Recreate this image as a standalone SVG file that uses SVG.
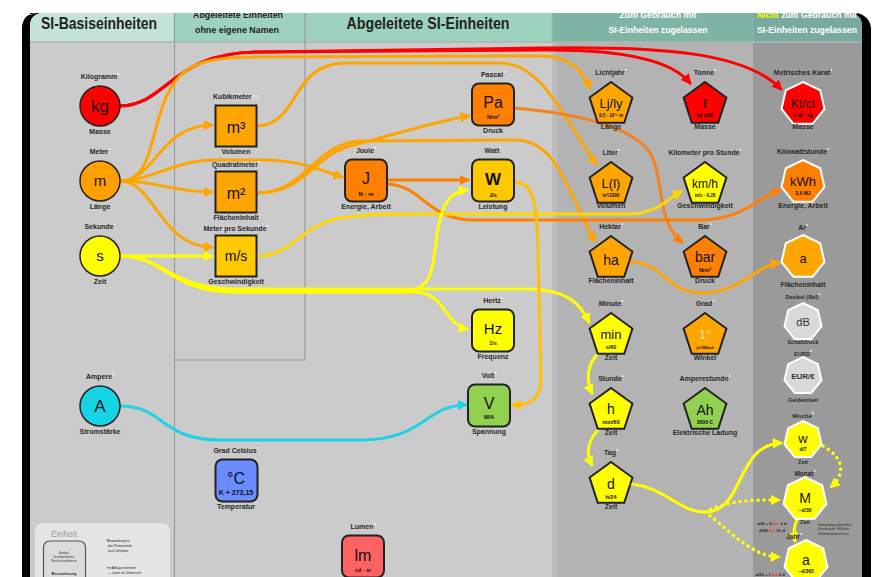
<svg xmlns="http://www.w3.org/2000/svg" xmlns:xlink="http://www.w3.org/1999/xlink" width="872" height="577" viewBox="0 0 872 577">
<style>
text{font-family:"Liberation Sans",Arial,sans-serif}
.l{font-size:7px;font-weight:bold;fill:#2a2a2a;text-anchor:middle}
.ls{font-size:5.5px;font-weight:bold;fill:#2a2a2a;text-anchor:middle}
.y{font-size:15px;fill:#111;text-anchor:middle}
.u{font-size:5.5px;font-weight:bold;fill:#111;text-anchor:middle}
.st{fill:#fff;font-size:5px}
.c{fill:none;stroke-width:3;stroke-linecap:round}
.dt{fill:none;stroke-width:3.5;stroke-linecap:round;stroke-dasharray:0.1 6}
.bk{stroke:#222;stroke-width:2}
.wh{stroke:#fff;stroke-width:2}
.hd{font-weight:bold;text-anchor:middle}
</style>
<defs>
<path id="pen" d="M0,-22.5 L21.4,-6.95 L13.23,18.2 L-13.23,18.2 L-21.4,-6.95 Z"/>
<path id="hep" d="M0,-22 L17.2,-13.72 L21.45,4.9 L9.55,19.82 L-9.55,19.82 L-21.45,4.9 L-17.2,-13.72 Z"/>
<path id="heps" d="M0,-19 L14.85,-11.85 L18.52,4.23 L8.25,17.12 L-8.25,17.12 L-18.52,4.23 L-14.85,-11.85 Z"/>
<marker id="aR" viewBox="0 0 10 10" refX="8" refY="5" markerWidth="3.5" markerHeight="3.5" orient="auto"><path d="M0,0 L10,5 L0,10 Z" fill="#ff0000"/></marker>
<marker id="aO" viewBox="0 0 10 10" refX="8" refY="5" markerWidth="3.5" markerHeight="3.5" orient="auto"><path d="M0,0 L10,5 L0,10 Z" fill="#ffa500"/></marker>
<marker id="aD" viewBox="0 0 10 10" refX="8" refY="5" markerWidth="3.5" markerHeight="3.5" orient="auto"><path d="M0,0 L10,5 L0,10 Z" fill="#ff8000"/></marker>
<marker id="aY" viewBox="0 0 10 10" refX="8" refY="5" markerWidth="3.5" markerHeight="3.5" orient="auto"><path d="M0,0 L10,5 L0,10 Z" fill="#ffff00"/></marker>
<marker id="aYd" viewBox="0 0 10 10" refX="8" refY="5" markerWidth="3" markerHeight="3" orient="auto"><path d="M0,0 L10,5 L0,10 Z" fill="#ffff00"/></marker>
<marker id="aG" viewBox="0 0 10 10" refX="8" refY="5" markerWidth="3.5" markerHeight="3.5" orient="auto"><path d="M0,0 L10,5 L0,10 Z" fill="#ffc000"/></marker>
<marker id="aGy" viewBox="0 0 10 10" refX="8" refY="5" markerWidth="3.5" markerHeight="3.5" orient="auto"><path d="M0,0 L10,5 L0,10 Z" fill="#ffd800"/></marker>
<marker id="aC" viewBox="0 0 10 10" refX="8" refY="5" markerWidth="3.5" markerHeight="3.5" orient="auto"><path d="M0,0 L10,5 L0,10 Z" fill="#1ed2e6"/></marker>
<clipPath id="panel"><rect x="30" y="13" width="832" height="580" rx="12"/></clipPath>
</defs>

<rect width="872" height="577" fill="#ffffff"/>
<rect x="22" y="13" width="849" height="580" rx="16" fill="#000"/>
<g id="background" clip-path="url(#panel)">
  <rect x="30" y="13" width="145" height="580" fill="#cbcbcb"/>
  <rect x="175" y="13" width="377" height="580" fill="#cbcbcb"/>
  <rect x="552" y="13" width="201" height="580" fill="#b3b3b3"/>
  <rect x="552" y="42" width="5" height="540" fill="#bcbcbc"/>
  <rect x="753" y="13" width="109" height="580" fill="#9a9a9a"/>
  <rect x="30" y="13" width="145" height="29" fill="#c2e3d5"/>
  <rect x="175" y="13" width="130" height="29" fill="#9dd2bf"/>
  <rect x="305" y="13" width="247" height="29" fill="#9dd2bf"/>
  <rect x="552" y="13" width="201" height="29" fill="#80b4a5"/>
  <rect x="753" y="13" width="109" height="29" fill="#7aaa9d"/>
  <line x1="30" y1="42" x2="862" y2="42" stroke="#a9b8b2" stroke-width="1.5"/>
  <line x1="174.5" y1="13" x2="174.5" y2="590" stroke="#9a9a9a" stroke-width="1.2"/>
  <line x1="305" y1="13" x2="305" y2="360" stroke="#9a9a9a" stroke-width="1.2"/>
  <line x1="174.5" y1="360" x2="305" y2="360" stroke="#9a9a9a" stroke-width="1.2"/>
  <line x1="552" y1="13" x2="552" y2="42" stroke="#8fbcaf" stroke-width="1"/>
  <line x1="753" y1="13" x2="753" y2="42" stroke="#86b3a7" stroke-width="1"/>
</g>

<g id="headers">
  <text class="hd" x="99" y="29" font-size="16" fill="#222" textLength="116" lengthAdjust="spacingAndGlyphs">SI-Basiseinheiten</text>
  <text class="hd" x="238" y="18" font-size="9" fill="#222" textLength="90" lengthAdjust="spacingAndGlyphs">Abgeleitete Einheiten</text>
  <text class="hd" x="237" y="33" font-size="9" fill="#222" textLength="84" lengthAdjust="spacingAndGlyphs">ohne eigene Namen</text>
  <text class="hd" x="428" y="29" font-size="16" fill="#222" textLength="163" lengthAdjust="spacingAndGlyphs">Abgeleitete SI-Einheiten</text>
  <text class="hd" x="658" y="18" font-size="9" fill="#fff" textLength="77" lengthAdjust="spacingAndGlyphs">Zum Gebrauch mit</text>
  <text class="hd" x="658" y="33" font-size="9" fill="#fff" textLength="99" lengthAdjust="spacingAndGlyphs">SI-Einheiten zugelassen</text>
  <text class="hd" x="807" y="18" font-size="9" fill="#fff" textLength="100" lengthAdjust="spacingAndGlyphs"><tspan fill="#f2ff00">Nicht</tspan> zum Gebrauch mit</text>
  <text class="hd" x="807" y="33" font-size="9" fill="#fff" textLength="100" lengthAdjust="spacingAndGlyphs">SI-Einheiten zugelassen</text>
</g>
<rect x="0" y="0" width="872" height="13" fill="#ffffff"/>
<path d="M22,29 Q22,13 38,13 L30,13 L30,29 Z" fill="#000"/>

<g id="connectors">
  <path class="c" stroke="#ff0000" d="M120,106 C170,104 170,52 260,52 L540,50 C615,49 670,58 690,83" marker-end="url(#aR)"/>
  <path class="c" stroke="#ff0000" d="M120,106 C170,104 170,52 260,52 L540,48 C660,46 745,52 781,89" marker-end="url(#aR)"/>
  <path class="c" stroke="#ffa500" d="M120,181 C150,181 150,140 163,105 C178,64 200,57 260,57 L540,56 C570,56 582,70 590,88" marker-end="url(#aO)"/>
  <path class="c" stroke="#ffa500" d="M120,181 C155,181 160,125 212,125" marker-end="url(#aO)"/>
  <path class="c" stroke="#ffa500" d="M120,181 C160,181 170,192 212,192" marker-end="url(#aO)"/>
  <path class="c" stroke="#ffa500" d="M120,181 C155,181 160,247 212,247" marker-end="url(#aO)"/>
  <path class="c" stroke="#ffa500" d="M120,181 C150,181 175,160 215,160 L260,160 C300,160 320,170 342,177" marker-end="url(#aO)"/>
  <path class="c" stroke="#ffa500" d="M258,126 C300,124 290,64 345,63 L500,63 C540,63 560,110 596,164" marker-end="url(#aO)"/>
  <path class="c" stroke="#ffa500" d="M258,193 C305,193 315,155 350,146 C390,136 440,120 469,116" marker-end="url(#aO)"/>
  <path class="c" stroke="#ffa500" d="M258,193 C305,193 315,143 360,141 L515,140 C560,140 570,200 595,241" marker-end="url(#aO)"/>
  <path class="c" stroke="#f58220" d="M514,108 C560,112 625,122 648,150 C665,172 655,222 682,242" marker-end="url(#aD)"/>
  <path class="c" stroke="#ff8000" d="M387,180 L468,180" marker-end="url(#aD)"/>
  <path class="c" stroke="#ff8000" d="M387,184 C425,186 425,220 475,220 L700,220 C740,220 755,200 780,190" marker-end="url(#aD)"/>
  <path class="c" stroke="#ffa500" d="M630,262 C665,262 665,293 702,293 C740,293 755,266 779,263" marker-end="url(#aO)"/>
  <path class="c" stroke="#ffd800" d="M258,256 C290,256 300,228 335,219 C365,213 400,214 440,214 L630,214 C655,214 668,200 681,191" marker-end="url(#aGy)"/>
  <path class="c" stroke="#ffff00" d="M120,256 L212,256" marker-end="url(#aY)"/>
  <path class="c" stroke="#ffff00" d="M120,256 C165,256 170,292 235,292 L400,292 C425,292 432,280 435,250 C440,205 448,192 467,190" marker-end="url(#aY)"/>
  <path class="c" stroke="#ffff00" d="M120,256 C165,256 170,292 235,292 L415,292 C445,292 445,325 467,329" marker-end="url(#aY)"/>
  <path class="c" stroke="#ffff00" d="M120,256 C165,256 170,289 235,289 L530,289 C565,290 580,302 589,322" marker-end="url(#aY)"/>
  <path class="c" stroke="#ffc000" d="M514,182 C533,182 537,200 538,250 L541,375 C542,400 530,405 513,405" marker-end="url(#aG)"/>
  <path class="c" stroke="#1ed2e6" d="M120,406 C165,406 160,440 220,440 L360,440 C425,440 425,405 466,405" marker-end="url(#aC)"/>
  <path class="c" stroke="#ffff00" d="M600,352 C588,362 585,378 592,393" marker-end="url(#aY)"/>
  <path class="c" stroke="#ffff00" d="M600,428 C588,440 585,452 592,465" marker-end="url(#aY)"/>
  <path class="c" stroke="#ffff00" d="M632,484 C665,488 680,512 705,512 C745,512 735,445 781,443" marker-end="url(#aY)"/>
  <path class="dt" stroke="#ffff00" d="M705,512 C730,500 750,500 779,500" marker-end="url(#aYd)"/>
  <path class="dt" stroke="#ffff00" d="M705,512 C730,530 750,556 779,557" marker-end="url(#aYd)"/>
  <path class="dt" stroke="#ffff00" d="M823,446 C845,458 845,475 831,487" marker-end="url(#aYd)"/>
  <path class="c" stroke="#ffff00" d="M798,518 C794,525 793,533 795,541" marker-end="url(#aY)"/>
</g>

<g id="n-kg"><circle cx="100" cy="106" r="20" fill="#ff0000" stroke="#222" stroke-width="1.5"/><text class="y" x="100" y="112" style="font-size:17px">kg</text><text class="l" x="100" y="79">Kilogramm<tspan class="st" dy="-2">*</tspan></text><text class="l" x="100" y="134">Masse</text></g>
<g id="n-m"><circle cx="100" cy="181" r="20" fill="#ffa000" stroke="#222" stroke-width="1.5"/><text class="y" x="100" y="186">m</text><text class="l" x="100" y="154">Meter<tspan class="st" dy="-2">*</tspan></text><text class="l" x="100" y="209">Länge</text></g>
<g id="n-s"><circle cx="100" cy="256" r="20" fill="#ffff00" stroke="#222" stroke-width="1.5"/><text class="y" x="100" y="261">s</text><text class="l" x="100" y="229">Sekunde<tspan class="st" dy="-2">*</tspan></text><text class="l" x="100" y="284">Zeit</text></g>
<g id="n-A"><circle cx="100" cy="406" r="20" fill="#17d3e6" stroke="#222" stroke-width="1.5"/><text class="y" x="100" y="412" style="font-size:17px">A</text><text class="l" x="100" y="379">Ampere<tspan class="st" dy="-2">*</tspan></text><text class="l" x="100" y="434">Stromstärke</text></g>

<g id="n-m3"><rect x="215.5" y="105.5" width="41" height="41" fill="#ffa500" class="bk"/><text class="y" x="236" y="133" style="font-size:16px">m³</text><text class="l" x="236" y="99">Kubikmeter<tspan style="fill:#eee;font-size:5.5px"> [*]</tspan></text><text class="l" x="236" y="154">Volumen</text></g>
<g id="n-m2"><rect x="215.5" y="171.5" width="41" height="41" fill="#ffa500" class="bk"/><text class="y" x="236" y="199" style="font-size:16px">m²</text><text class="l" x="236" y="167">Quadratmeter<tspan class="st" dy="-2">*</tspan></text><text class="l" x="236" y="220">Flächeninhalt</text></g>
<g id="n-ms"><rect x="215.5" y="235.5" width="41" height="41" fill="#ffc800" class="bk"/><text class="y" x="236" y="261" style="font-size:14px">m/s</text><text class="l" x="236" y="231">Meter pro Sekunde<tspan class="st" dy="-2">*</tspan></text><text class="l" x="236" y="284">Geschwindigkeit</text></g>

<g id="n-Pa"><rect x="472" y="83.5" width="42" height="42" rx="7" fill="#ff8000" class="bk"/><text class="y" x="493" y="108" style="font-size:16px">Pa</text><text class="u" x="493" y="119">N/m²</text><text class="l" x="493" y="77">Pascal<tspan class="st" dy="-2">*</tspan></text><text class="l" x="493" y="133">Druck</text></g>
<g id="n-J"><rect x="345" y="159.5" width="42" height="42" rx="7" fill="#ff8000" class="bk"/><text class="y" x="366" y="184" style="font-size:16px">J</text><text class="u" x="366" y="196" style="font-size:6px">N · m</text><text class="l" x="366" y="153">Joule<tspan class="st" dy="-2">*</tspan></text><text class="l" x="366" y="209">Energie, Arbeit</text></g>
<g id="n-W"><rect x="472" y="159.5" width="42" height="42" rx="7" fill="#ffc800" class="bk"/><text class="y" x="493" y="185" style="font-size:17px;font-weight:bold">W</text><text class="u" x="493" y="197">J/s</text><text class="l" x="493" y="153">Watt<tspan class="st" dy="-2">*</tspan></text><text class="l" x="493" y="209">Leistung</text></g>
<g id="n-Hz"><rect x="472" y="309.5" width="42" height="42" rx="7" fill="#ffff00" class="bk"/><text class="y" x="493" y="334">Hz</text><text class="u" x="493" y="345">1/s</text><text class="l" x="493" y="303">Hertz<tspan class="st" dy="-2">*</tspan></text><text class="l" x="493" y="359">Frequenz</text></g>
<g id="n-V"><rect x="468" y="384.5" width="42" height="42" rx="7" fill="#92d050" class="bk"/><text class="y" x="489" y="409" style="font-size:16px">V</text><text class="u" x="489" y="419">W/A</text><text class="l" x="489" y="378">Volt<tspan class="st" dy="-2">*</tspan></text><text class="l" x="489" y="434">Spannung</text></g>
<g id="n-C"><rect x="215.5" y="459.5" width="42" height="42" rx="7" fill="#6b8cff" class="bk"/><text class="y" x="236" y="484" style="font-size:16px">°C</text><text class="u" x="236" y="495" style="font-size:7px">K + 273,15</text><text class="l" x="236" y="453">Grad Celsius<tspan class="st" dy="-2">*</tspan></text><text class="l" x="236" y="509">Temperatur</text></g>
<g id="n-lm"><rect x="342" y="535.5" width="42" height="42" rx="7" fill="#ff6262" class="bk"/><text class="y" x="363" y="561" style="font-size:16px">lm</text><text class="u" x="363" y="572">cd · sr</text><text class="l" x="363" y="529">Lumen<tspan class="st" dy="-2">*</tspan></text></g>

<g id="n-Lj"><use xlink:href="#pen" transform="translate(611,104.5)" fill="#ffa500" class="bk"/><text class="y" x="611" y="108" style="font-size:13px">Lj/ly</text><text class="u" x="611" y="117" style="font-size:4.5px">9,5 · 10¹⁵ m</text><text class="l" x="611" y="75">Lichtjahr<tspan class="st" dy="-2">*</tspan></text><text class="l" x="611" y="129">Länge</text></g>
<g id="n-t"><use xlink:href="#pen" transform="translate(705,104.5)" fill="#ff0000" class="bk"/><text class="y" x="705" y="108">t</text><text class="u" x="705" y="117" style="font-size:4.5px">kg·1000</text><text class="l" x="705" y="75">Tonne<tspan class="st" dy="-2">*</tspan></text><text class="l" x="705" y="129">Masse</text></g>
<g id="n-L"><use xlink:href="#pen" transform="translate(611,184.5)" fill="#ffa500" class="bk"/><text class="y" x="611" y="188" style="font-size:13px">L(l)</text><text class="u" x="611" y="197" style="font-size:4.5px">m³/1000</text><text class="l" x="611" y="155">Liter<tspan class="st" dy="-2">*</tspan></text><text class="l" x="611" y="208">Volumen</text></g>
<g id="n-kmh"><use xlink:href="#pen" transform="translate(705,184.5)" fill="#ffff00" class="bk"/><text class="y" x="705" y="188" style="font-size:12px">km/h</text><text class="u" x="705" y="197" style="font-size:4.5px">m/s · 0,28</text><text class="l" x="705" y="155">Kilometer pro Stunde<tspan class="st" dy="-2">*</tspan></text><text class="l" x="705" y="208">Geschwindigkeit</text></g>
<g id="n-ha"><use xlink:href="#pen" transform="translate(611,258.5)" fill="#ffa500" class="bk"/><text class="y" x="611" y="265" style="font-size:14px">ha</text><text class="l" x="611" y="229">Hektar<tspan class="st" dy="-2">*</tspan></text><text class="l" x="611" y="283">Flächeninhalt</text></g>
<g id="n-bar"><use xlink:href="#pen" transform="translate(705,258.5)" fill="#ff8000" class="bk"/><text class="y" x="705" y="262" style="font-size:14px">bar</text><text class="u" x="705" y="272">N/m²</text><text class="l" x="705" y="229">Bar<tspan class="st" dy="-2">*</tspan></text><text class="l" x="705" y="283">Druck</text></g>
<g id="n-min"><use xlink:href="#pen" transform="translate(611,335.5)" fill="#ffff00" class="bk"/><text class="y" x="611" y="339" style="font-size:13px">min</text><text class="u" x="611" y="349">s/60</text><text class="l" x="611" y="306">Minute<tspan class="st" dy="-2">*</tspan></text><text class="l" x="611" y="360">Zeit</text></g>
<g id="n-deg"><use xlink:href="#pen" transform="translate(705,335.5)" fill="#ffa500" class="bk"/><text class="y" x="705" y="339" style="font-size:13px;fill:#ffe7a8">1°</text><text class="u" x="705" y="349" style="font-size:3.5px">(π/180)rad</text><text class="l" x="705" y="306">Grad<tspan class="st" dy="-2">*</tspan></text><text class="l" x="705" y="360">Winkel</text></g>
<g id="n-h"><use xlink:href="#pen" transform="translate(611,410.5)" fill="#ffff00" class="bk"/><text class="y" x="611" y="414" style="font-size:14px">h</text><text class="u" x="611" y="424">min/60</text><text class="l" x="611" y="381">Stunde<tspan class="st" dy="-2">*</tspan></text><text class="l" x="611" y="435">Zeit</text></g>
<g id="n-Ah"><use xlink:href="#pen" transform="translate(705,410.5)" fill="#92d050" class="bk"/><text class="y" x="705" y="415" style="font-size:14px">Ah</text><text class="u" x="705" y="424" style="font-size:5px">3600·C</text><text class="l" x="705" y="381">Amperestunde<tspan class="st" dy="-2">*</tspan></text><text class="l" x="705" y="435">Elektrische Ladung</text></g>
<g id="n-d"><use xlink:href="#pen" transform="translate(611,484.5)" fill="#ffff00" class="bk"/><text class="y" x="611" y="489" style="font-size:14px">d</text><text class="u" x="611" y="499">h/24</text><text class="l" x="611" y="455">Tag<tspan class="st" dy="-2">*</tspan></text><text class="l" x="611" y="509">Zeit</text></g>

<g id="n-ct"><use xlink:href="#hep" transform="translate(803,104)" fill="#ff0000" class="wh"/><text class="y" x="803" y="108" style="font-size:12px">Kt/ct</text><text class="u" x="803" y="117" style="font-size:4.5px">2·10⁻⁴ kg</text><text class="l" x="803" y="75">Metrisches Karat<tspan class="st" dy="-2">*</tspan></text><text class="l" x="803" y="129">Masse</text></g>
<g id="n-kWh"><use xlink:href="#hep" transform="translate(803,182)" fill="#ff8000" class="wh"/><text class="y" x="803" y="186" style="font-size:13px">kWh</text><text class="u" x="803" y="195" style="font-size:5px">3,6 MJ</text><text class="l" x="803" y="154">Kilowattstunde<tspan class="st" dy="-2">*</tspan></text><text class="l" x="803" y="208">Energie, Arbeit</text></g>
<g id="n-ar"><use xlink:href="#hep" transform="translate(803,257)" fill="#ffa500" class="wh"/><text class="y" x="803" y="263" style="font-size:13px">a</text><text class="l" x="803" y="230">Ar<tspan class="st" dy="-2">*</tspan></text><text class="l" x="803" y="287">Flächeninhalt</text></g>
<g id="n-dB"><use xlink:href="#heps" transform="translate(803,322)" fill="#d9d9d9" class="wh"/><text class="y" x="803" y="326" style="font-size:11px;fill:#333">dB</text><text class="ls" x="803" y="299">Dezibel (Bel)<tspan class="st" dy="-2">*</tspan></text><text class="ls" x="803" y="344">Schalldruck</text></g>
<g id="n-eur"><use xlink:href="#heps" transform="translate(803,376)" fill="#d9d9d9" class="wh"/><text class="y" x="803" y="379" style="font-size:8px;font-weight:bold;fill:#333">EUR/€</text><text class="ls" x="803" y="356">EURO<tspan class="st" dy="-2">*</tspan></text><text class="ls" x="803" y="402">Geldeinheit</text></g>
<g id="n-w"><use xlink:href="#heps" transform="translate(803,440)" fill="#ffff00" class="wh"/><text class="y" x="803" y="443" style="font-size:13px">w</text><text class="u" x="803" y="451" style="font-size:5px">d/7</text><text class="ls" x="803" y="418" style="font-size:6px">Woche<tspan class="st" dy="-2">*</tspan></text><text class="ls" x="803" y="464">Zeit</text></g>
<g id="n-M"><use xlink:href="#hep" transform="translate(805,499)" fill="#ffff00" class="wh"/><text class="y" x="805" y="503" style="font-size:14px">M</text><text class="u" x="805" y="512" style="font-size:5px">~d/30</text><text class="ls" x="805" y="476" style="font-size:6.5px">Monat<tspan class="st" dy="-2">*</tspan></text><text class="ls" x="805" y="524">Zeit</text>
  <text x="772" y="525" font-size="4.3" font-weight="bold" fill="#222" text-anchor="middle">w/4 + 0 <tspan fill="#ff2020">bis</tspan> 3 d</text>
  <text x="772" y="532" font-size="4.3" font-weight="bold" fill="#222" text-anchor="middle">d/28 <tspan fill="#ff2020">bis</tspan> 31 d</text>
  <text x="818" y="526" font-size="3" fill="#222">Verwendung außerhalb d.</text>
  <text x="818" y="530" font-size="3" fill="#222">Grundschule / HW eher</text>
  <text x="818" y="535" font-size="3" fill="#222">&amp; Kombination wie m z.</text>
</g>
<g id="n-a"><use xlink:href="#hep" transform="translate(806,562)" fill="#ffff00" class="wh"/><text class="y" x="806" y="565" style="font-size:14px">a</text><text class="u" x="806" y="573" style="font-size:5px">~d/365</text><text class="ls" x="794" y="539" style="font-size:6.5px">Jahr<tspan class="st" dy="-2">*</tspan></text>
  <text x="770" y="576" font-size="4" font-weight="bold" fill="#222" text-anchor="middle">w/52 + 1 <tspan fill="#ff2020">bis</tspan> 2 d</text>
</g>

<g id="legend">
  <rect x="35" y="523" width="135" height="70" rx="8" fill="#e5e5e5"/>
  <text x="64" y="537" font-size="8.5" fill="#9a9a9a" text-anchor="middle">Einheit</text>
  <rect x="43.5" y="541" width="42" height="45" rx="6" fill="#dcdcdc" stroke="#555" stroke-width="1.2"/>
  <text x="64" y="554" font-size="3" fill="#333" text-anchor="middle">Symbol,</text>
  <text x="64" y="558" font-size="3" fill="#333" text-anchor="middle">Grundeinheiten,</text>
  <text x="64" y="562" font-size="3" fill="#333" text-anchor="middle">Bruchschreibweise</text>
  <text x="64" y="575" font-size="4" font-weight="bold" fill="#333" text-anchor="middle">Bezeichnung</text>
  <text x="106" y="542" font-size="3.5" fill="#222">*Anwendung in</text>
  <text x="108" y="547" font-size="3.5" fill="#222">der Primarstufe</text>
  <text x="108" y="552" font-size="3.5" fill="#222">laut Lehrplan</text>
  <text x="106" y="569" font-size="3.5" fill="#222">°im Alltag erkennen</text>
  <text x="108" y="574" font-size="3.5" fill="#222">— kann im Unterricht</text>
</g>
</svg>
